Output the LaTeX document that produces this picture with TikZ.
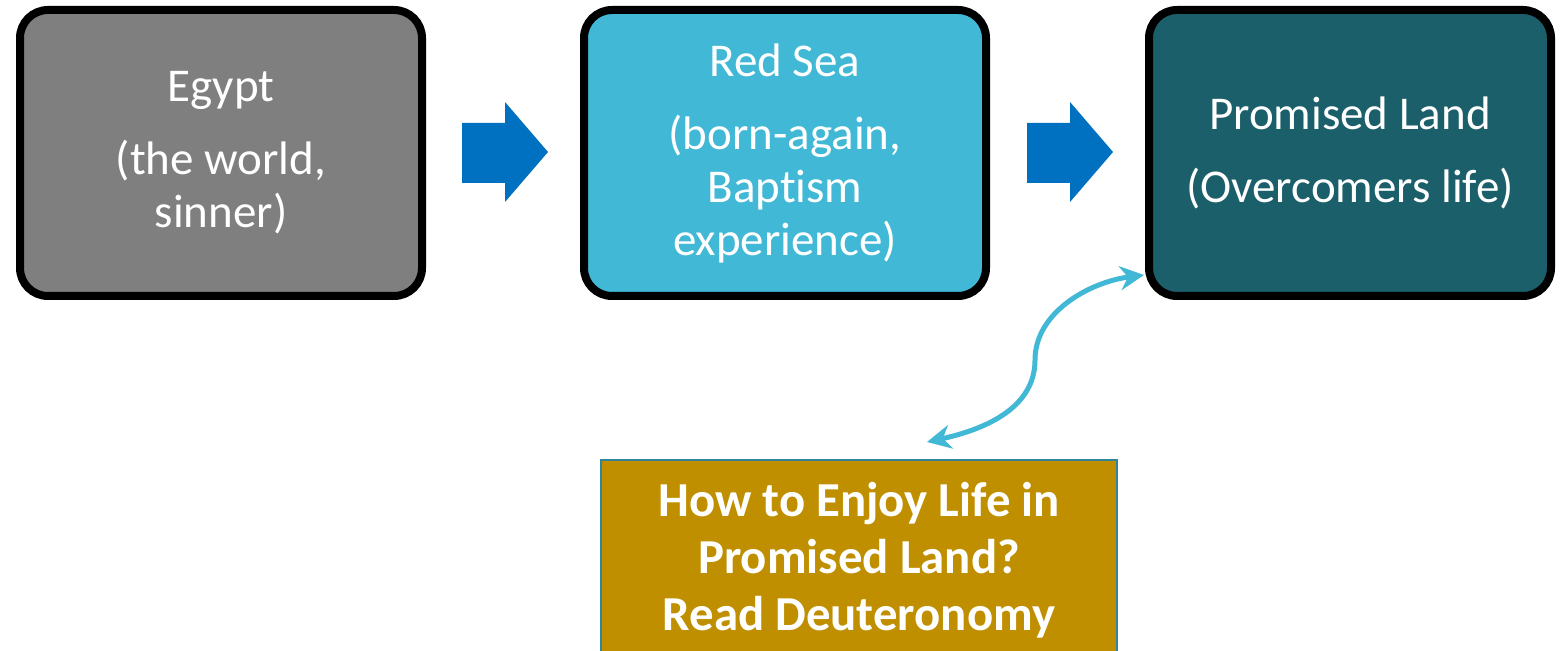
\documentclass[tikz,border=0pt]{standalone}
\usepackage{fontspec}
\setmainfont{Carlito}[Ligatures={NoCommon}]
\usetikzlibrary{arrows.meta}
\definecolor{egyptgray}{RGB}{127,127,127}
\definecolor{seacyan}{RGB}{65,184,213}
\definecolor{landteal}{RGB}{27,95,107}
\definecolor{arrowblue}{RGB}{0,112,192}
\definecolor{gold}{RGB}{191,143,0}
\definecolor{goldedge}{RGB}{49,132,155}
\tikzset{
  stage/.style={draw=black, line width=4pt, rounded corners=14pt,
    minimum width=201pt, minimum height=143pt, align=center,
    text=white, font=\fontsize{23.5}{26.5}\selectfont, inner sep=0pt},
  blockarrow/.style={fill=arrowblue, draw=none},
  link/.style={draw=seacyan, line width=2.5pt, {Stealth[length=12pt,width=12pt]}-{Stealth[length=12pt,width=12pt]}},
  readbox/.style={draw=goldedge, line width=1pt, fill=gold, minimum width=258pt,
    minimum height=100pt, align=center, text=white, inner sep=0pt,
    font=\bfseries\fontsize{24.4}{28.5}\selectfont}
}
\begin{document}
\begin{tikzpicture}[x=0.5pt,y=-0.5pt]
\useasboundingbox (0,0) rectangle (1561,651);
\node[stage, fill=egyptgray] (egypt) at (221,153) {Egypt\\[10pt](the world,\\sinner)};
\node[stage, fill=seacyan] (sea) at (785,153) {Red Sea\\[10pt](born-again,\\Baptism\\experience)};
\node[stage, fill=landteal] (land) at (1350,153) {Promised Land\\[10pt](Overcomers life)};
\fill[blockarrow] (462,123) -- (505,123) -- (505,102) -- (548,152) -- (505,202) -- (505,183) -- (462,183) -- cycle;
\fill[blockarrow] (1027,123) -- (1070,123) -- (1070,102) -- (1113,152) -- (1070,202) -- (1070,183) -- (1027,183) -- cycle;
\node[readbox] (read) at (859,560) {How to Enjoy Life in\\Promised Land?\\Read Deuteronomy};
\coordinate (a1) at (927,442);
\coordinate (a2) at (1144,275);
\draw[link] (a1) .. controls (1000,426) and (1035,400) .. (1035,360) .. controls (1035,312) and (1090,282) .. (a2);
\end{tikzpicture}
\end{document}
